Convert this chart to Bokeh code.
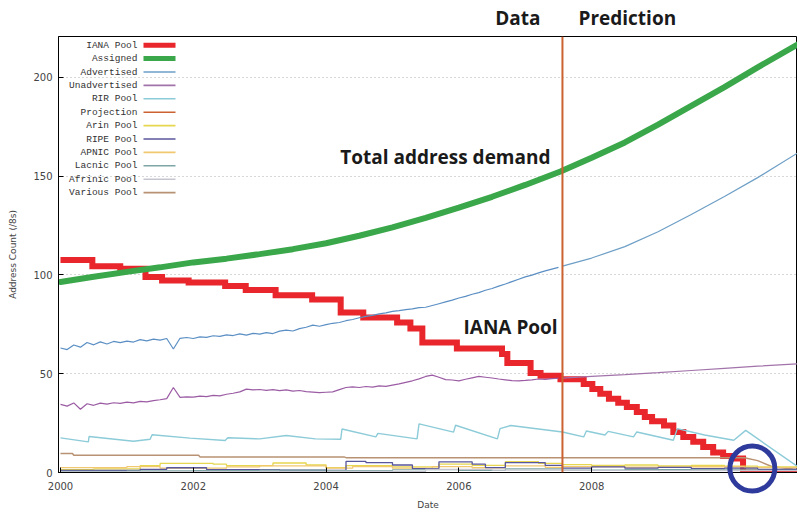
import numpy as np
from bokeh.plotting import figure
from bokeh.models import Range1d, FixedTicker, Label, BoxAnnotation, Span
from bokeh.core.properties import value
from bokeh.embed import file_html
from bokeh.resources import INLINE

# ---------------- data ----------------
projection_date = 2007.56

iana_x = [2000.0, 2000.48, 2000.9, 2001.28, 2001.53, 2001.93, 2002.48, 2002.79, 2003.24, 2003.79,
          2004.22, 2004.56, 2005.07, 2005.27, 2005.45, 2005.97, 2006.65, 2006.73, 2007.08, 2007.23,
          2007.53, 2007.88, 2008.01, 2008.13, 2008.26, 2008.4, 2008.53, 2008.68, 2008.8, 2008.91,
          2009.09, 2009.23, 2009.38, 2009.53, 2009.68, 2009.83, 2009.98, 2010.11, 2010.28, 2011.1]
iana_y = [107.5, 104.4, 103.1, 98.9, 97.2, 96.1, 94.4, 92.4, 89.7, 87.5,
          81.0, 78.4, 75.9, 72.9, 65.8, 62.8, 60.0, 55.4, 50.4, 49.0,
          47.2, 44.8, 42.3, 39.8, 37.3, 35.3, 33.1, 30.6, 28.1, 25.9,
          23.8, 20.5, 18.0, 15.5, 12.9, 10.1, 8.4, 7.1, 0.0, 0.0]

assigned_x = [2000, 2000.5, 2001, 2001.5, 2002, 2002.5, 2003, 2003.5, 2004, 2004.5, 2005, 2005.5,
              2006, 2006.5, 2007, 2007.53, 2008, 2008.5, 2009, 2009.5, 2010, 2010.5, 2011.1]
assigned_y = [96.4, 99.0, 101.5, 103.8, 106.3, 108.2, 110.5, 113.0, 116.0, 119.8, 124.0, 128.8,
              134.0, 139.5, 145.5, 152.3, 159.3, 167.0, 176.0, 185.5, 195.0, 205.0, 216.5]

obs_dates = list(np.round(np.arange(2000.0, 2007.51, 0.1), 2))
pred_dates = [2007.56, 2008.0, 2008.5, 2009.0, 2009.5, 2010.0, 2010.5, 2011.1]

advertised_obs = [63.0, 62.2, 64.5, 63.4, 65.8, 64.6, 66.1, 65.0, 66.3, 65.7,
                  66.5, 66.0, 67.2, 66.6, 67.5, 67.0, 67.8, 62.5, 67.9, 68.3,
                  67.8, 68.6, 68.4, 69.2, 68.9, 69.6, 69.3, 70.1, 69.5, 70.4,
                  70.0, 70.8, 70.3, 71.5, 72.0, 71.6, 72.8, 73.5, 74.6, 74.0,
                  74.8, 75.5, 75.9, 76.8, 77.4, 78.3, 79.0, 79.5, 80.3, 80.8,
                  81.5, 81.9, 82.4, 82.8, 83.4, 83.6, 84.5, 85.4, 86.3, 87.2,
                  88.3, 89.1, 90.2, 91.0, 92.2, 93.1, 94.3, 95.4, 96.6, 97.8,
                  99.0, 99.9, 101.0, 102.0, 102.9, 103.8]
advertised_pred = [104.4, 108.5, 114.3, 121.8, 130.5, 139.6, 149.2, 161.6]

unadvertised_obs = [34.5, 33.6, 35.2, 32.0, 34.8, 34.0, 35.1, 34.6, 35.3, 35.0,
                    35.6, 35.2, 36.0, 35.7, 36.4, 36.8, 37.4, 43.0, 38.0, 38.3,
                    38.1, 38.6, 38.4, 39.0, 38.8, 39.6, 40.1, 40.8, 42.2, 41.8,
                    42.0, 41.6, 41.9, 41.4, 41.8, 41.2, 41.5, 40.9, 40.7, 40.4,
                    40.6, 40.8, 41.9, 43.0, 43.3, 43.0, 43.5, 43.2, 43.8, 43.6,
                    44.2, 44.8, 45.6, 46.4, 47.4, 48.6, 49.3, 48.2, 47.0, 46.8,
                    46.4, 47.2, 47.9, 48.6, 48.2, 47.8, 47.3, 46.9, 46.5, 46.4,
                    46.6, 46.9, 47.3, 47.1, 47.5, 47.7]
unadvertised_pred = [47.8, 48.6, 49.5, 50.5, 51.6, 52.7, 53.8, 55.0]

rir_x = [2000.0, 2000.42, 2000.43, 2001.1, 2001.35, 2001.38, 2001.95, 2002.48, 2002.52, 2003.0,
         2003.4, 2003.84, 2004.22, 2004.24, 2004.75, 2004.78, 2005.37, 2005.4, 2005.92, 2005.95,
         2006.58, 2006.62, 2006.78, 2007.56, 2007.88, 2007.92, 2008.2, 2008.25, 2008.63, 2008.68,
         2009.23, 2009.29, 2009.7, 2010.14, 2010.32, 2011.1]
rir_y = [17.5, 15.5, 18.2, 15.8, 16.8, 19.1, 17.4, 16.2, 17.6, 17.0,
         18.7, 17.0, 16.8, 22.0, 18.0, 19.8, 17.0, 24.6, 20.4, 23.9,
         17.0, 22.2, 23.8, 20.5, 18.0, 21.0, 19.0, 20.8, 18.0, 20.5,
         16.3, 22.2, 19.0, 16.3, 21.3, 3.0]

arin_x = [2000, 2000.5, 2001.2, 2001.5, 2002.3, 2002.5, 2003.2, 2003.7, 2004.0, 2004.3, 2005.0, 2005.7,
          2006.2, 2006.7, 2007.2, 2007.56, 2008, 2008.5, 2009, 2009.5, 2010, 2010.5, 2011.1]
arin_y = [1.5, 1.8, 3.5, 4.6, 4.2, 3.5, 4.8, 3.8, 2.5, 3.5, 2.8, 4.2,
          3.6, 5.5, 4.6, 4.0, 3.6, 3.8, 3.3, 3.6, 3.2, 2.8, 2.0]

ripe_x = [2000, 2001.2, 2001.6, 2002.2, 2003.3, 2004.0, 2004.3, 2004.6, 2005.0, 2005.3, 2005.7, 2006.2,
          2006.4, 2006.7, 2007.3, 2007.56, 2008, 2008.5, 2009, 2009.5, 2010, 2010.5, 2011.1]
ripe_y = [1.0, 1.6, 2.4, 1.5, 1.2, 1.0, 5.6, 5.0, 3.8, 2.0, 5.4, 4.2,
          2.5, 5.0, 3.6, 2.2, 2.8, 2.2, 2.6, 2.0, 2.2, 1.6, 1.2]

apnic_x = [2000, 2001.0, 2001.5, 2002.5, 2003.0, 2004.0, 2004.4, 2005.0, 2005.6, 2006.2, 2006.7,
           2007.3, 2007.56, 2008.5, 2009.5, 2010.3, 2011.1]
apnic_y = [2.5, 3.0, 2.2, 2.8, 3.4, 2.2, 3.0, 2.2, 3.0, 2.4, 3.4, 2.6, 3.0, 2.7, 2.9, 2.5, 1.8]

lacnic_x = [2000, 2001, 2002, 2003, 2004, 2005, 2006, 2006.7, 2007.56, 2008.5, 2009.5, 2010.5, 2011.1]
lacnic_y = [0.6, 0.8, 1.0, 1.2, 0.9, 1.4, 1.0, 1.8, 1.2, 1.5, 1.4, 1.1, 0.8]

afrinic_x = [2000, 2002, 2004, 2005.5, 2006.5, 2007.56, 2009, 2011.1]
afrinic_y = [0.3, 0.5, 0.6, 1.6, 1.2, 1.0, 0.9, 0.7]

various_x = [2000.0, 2000.18, 2000.2, 2002.08, 2002.1, 2004.27, 2004.3, 2010.3, 2010.5, 2010.72, 2011.1]
various_y = [9.6, 9.6, 8.7, 8.7, 7.9, 7.9, 7.5, 7.5, 6.0, 2.9, 1.5]

exhaustion_point = (2010.42, 2.0)

legend_names = ["IANA Pool", "Assigned", "Advertised", "Unadvertised", "RIR Pool", "Projection",
                "Arin Pool", "RIPE Pool", "APNIC Pool", "Lacnic Pool", "Afrinic Pool", "Various Pool"]
legend_colors = ["#e8262b", "#3aa84a", "#6e9fc6", "#a273aa", "#8ccbd8", "#cc6232",
                 "#e6d650", "#58569c", "#f1c870", "#7fa6a6", "#c6c6d0", "#b89272"]

x_ticks = [2000, 2002, 2004, 2006, 2008]
y_ticks = [0, 50, 100, 150, 200]

# ---------------- figure ----------------
p = figure(width=797, height=512, output_backend="svg", toolbar_location=None,
           x_range=Range1d(1999.97, 2011.10), y_range=Range1d(0, 220.6),
           min_border_left=58, min_border_right=0, min_border_top=36, min_border_bottom=38,
           x_axis_label="Date", y_axis_label="Address Count (/8s)")
p.outline_line_color = "black"
p.outline_line_width = 1
p.background_fill_color = "white"
p.border_fill_color = "white"

p.xgrid.grid_line_color = None
p.ygrid.grid_line_color = "#b0b0b0"
p.ygrid.grid_line_dash = "1 3"
p.ygrid.ticker = FixedTicker(ticks=[50, 100, 150, 200])

p.xaxis.ticker = FixedTicker(ticks=x_ticks)
p.yaxis.ticker = FixedTicker(ticks=y_ticks)

for ax in p.axis:
    ax.major_tick_in = 5
    ax.major_tick_out = 0
    ax.minor_tick_in = 0
    ax.minor_tick_out = 0
    ax.axis_line_color = "black"
    ax.major_tick_line_color = "black"
    ax.major_label_text_font = "DejaVu Sans"
    ax.major_label_text_color = "#444444"
    ax.major_label_text_font_size = "10px"
    ax.axis_label_text_font = "DejaVu Sans"
    ax.axis_label_text_font_style = "normal"
    ax.axis_label_text_color = "#444444"
    ax.axis_label_text_font_size = "9px"

p.xaxis.major_label_standoff = 9
p.xaxis.axis_label_standoff = 7
p.yaxis.major_label_standoff = 6
p.yaxis.axis_label_standoff = 12

# ---------------- series ----------------
p.step(iana_x, iana_y, mode="after", line_color=legend_colors[0], line_width=6,
       line_join="miter", line_cap="butt")
p.line(assigned_x, assigned_y, line_color=legend_colors[1], line_width=6, line_cap="round")
p.line(obs_dates, advertised_obs, line_color="#5b8fc4", line_width=1.2)
p.line(pred_dates, advertised_pred, line_color=legend_colors[2], line_width=1.2)
p.line(obs_dates, unadvertised_obs, line_color="#9b5ca4", line_width=1.2)
p.line(pred_dates, unadvertised_pred, line_color=legend_colors[3], line_width=1.2)
p.line(rir_x, rir_y, line_color=legend_colors[4], line_width=1.4)
p.add_layout(Span(location=projection_date, dimension="height", line_color=legend_colors[5],
                  line_width=2))
p.line(various_x, various_y, line_color=legend_colors[11], line_width=1.5)
p.step(arin_x, arin_y, mode="after", line_color=legend_colors[6], line_width=1.3)
p.step(apnic_x, apnic_y, mode="after", line_color=legend_colors[8], line_width=1.3)
p.step(ripe_x, ripe_y, mode="after", line_color=legend_colors[7], line_width=1.3)
p.step(lacnic_x, lacnic_y, mode="after", line_color=legend_colors[9], line_width=1.2)
p.step(afrinic_x, afrinic_y, mode="after", line_color=legend_colors[10], line_width=1.2)

# ---------------- legend (gnuplot style: text, then sample) ----------------
legend_widths = [5, 5, 1.6, 1.6, 1.6, 1.6, 1.6, 1.6, 1.6, 1.6, 1.6, 1.6]
for i, (name, col, w) in enumerate(zip(legend_names, legend_colors, legend_widths)):
    sy = 427.3 - 13.4 * i
    p.add_layout(Label(x=79, y=sy, x_units="screen", y_units="screen", text=name,
                       text_align="right", text_baseline="middle", text_font="Liberation Mono",
                       text_font_size="9.5px", text_color="#333333"))
    p.add_layout(BoxAnnotation(left=85, right=117, bottom=sy - w / 2, top=sy + w / 2,
                               left_units="screen", right_units="screen",
                               bottom_units="screen", top_units="screen",
                               fill_color=col, fill_alpha=1.0, line_alpha=0))

# ---------------- annotations ----------------
bold = dict(text_font="Open Sans", text_font_style="bold", text_font_size="19px",
            text_color="#1a1a1a", text_baseline="middle")
p.add_layout(Label(x=2007.38, y=159.7, text="Total address demand", text_align="right", **bold))
p.add_layout(Label(x=2006.07, y=73.5, text="IANA Pool", text_align="left", **bold))

# "Data" / "Prediction" sit above the frame: overlay-level text glyphs are not clipped
head = dict(text_font=value("Open Sans"), text_font_style="bold", text_font_size="19px",
            text_color="#1a1a1a", text_baseline="middle", level="overlay")
p.text(x=[projection_date], y=[230.2], text=["Data"], x_offset=-22, text_align="right", **head)
p.text(x=[projection_date], y=[230.2], text=["Prediction"], x_offset=16, text_align="left", **head)

# highlight circle around the exhaustion point (overlay level: not clipped to the frame)
p.scatter([exhaustion_point[0]], [exhaustion_point[1]], marker="circle", size=45,
          fill_alpha=0, line_color="#2e3a9c", line_width=5, level="overlay")

open("out.html", "w").write(file_html(p, INLINE))
